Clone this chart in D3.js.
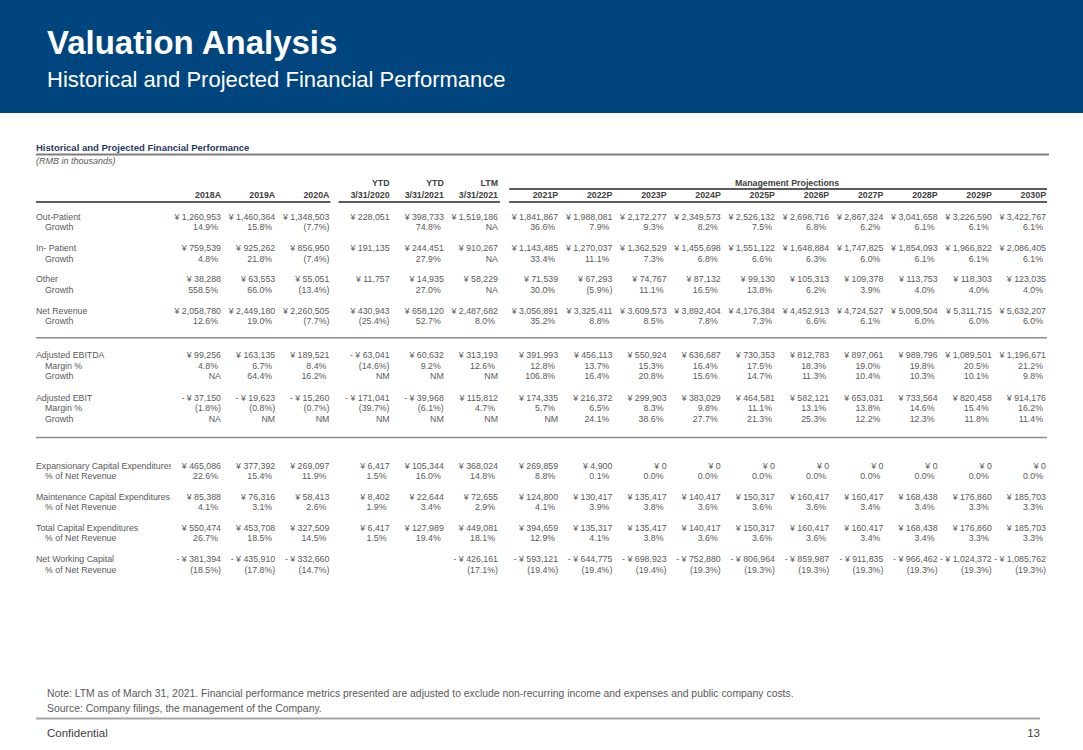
<!DOCTYPE html>
<html><head><meta charset="utf-8">
<script src="https://cdn.jsdelivr.net/npm/d3@7"></script>
<style>
body{margin:0;background:#fff;}
svg{display:block;font-family:"Liberation Sans",Arial,sans-serif;}
</style>
</head><body>
<svg id="chart" width="1083" height="750"></svg>
<script>
// ---------- DATA ----------
const columnLabels = ["2018A","2019A","2020A","3/31/2020","3/31/2021","3/31/2021","2021P","2022P","2023P","2024P","2025P","2026P","2027P","2028P","2029P","2030P"];
const columnTopLabels = ["","","","YTD","YTD","LTM","","","","","","","","","",""];
const columnGroups = [0,0,0,1,1,1,2,2,2,2,2,2,2,2,2,2];

const outPatient = [1260953,1460364,1348503,228051,398733,1519186,1841867,1988081,2172277,2349573,2526132,2698716,2867324,3041658,3226590,3422767];
const outPatientGrowth = [14.9,15.8,-7.7,null,74.8,"NA",36.6,7.9,9.3,8.2,7.5,6.8,6.2,6.1,6.1,6.1];
const inPatient = [759539,925262,856950,191135,244451,910267,1143485,1270037,1362529,1455698,1551122,1648884,1747825,1854093,1966822,2086405];
const inPatientGrowth = [4.8,21.8,-7.4,null,27.9,"NA",33.4,11.1,7.3,6.8,6.6,6.3,6.0,6.1,6.1,6.1];
const other = [38288,63553,55051,11757,14935,58229,71539,67293,74767,87132,99130,105313,109378,113753,118303,123035];
const otherGrowth = [558.5,66.0,-13.4,null,27.0,"NA",30.0,-5.9,11.1,16.5,13.8,6.2,3.9,4.0,4.0,4.0];
const netRevenue = [2058780,2449180,2260505,430943,658120,2487682,3056891,3325411,3609573,3892404,4176384,4452913,4724527,5009504,5311715,5632207];
const netRevenueGrowth = [12.6,19.0,-7.7,-25.4,52.7,8.0,35.2,8.8,8.5,7.8,7.3,6.6,6.1,6.0,6.0,6.0];
const ebitda = [99256,163135,189521,-63041,60632,313193,391993,456113,550924,636687,730353,812783,897061,989796,1089501,1196671];
const ebitdaMargin = [4.8,6.7,8.4,-14.6,9.2,12.6,12.8,13.7,15.3,16.4,17.5,18.3,19.0,19.8,20.5,21.2];
const ebitdaGrowth = ["NA",64.4,16.2,"NM","NM","NM",106.8,16.4,20.8,15.6,14.7,11.3,10.4,10.3,10.1,9.8];
const ebit = [-37150,-19623,-15260,-171041,-39968,115812,174335,216372,299903,383029,464581,582121,653031,733564,820458,914176];
const ebitMargin = [-1.8,-0.8,-0.7,-39.7,-6.1,4.7,5.7,6.5,8.3,9.8,11.1,13.1,13.8,14.6,15.4,16.2];
const ebitGrowth = ["NA","NM","NM","NM","NM","NM","NM",24.1,38.6,27.7,21.3,25.3,12.2,12.3,11.8,11.4];
const expCapex = [465086,377392,269097,6417,105344,368024,269859,4900,0,0,0,0,0,0,0,0];
const expCapexPct = [22.6,15.4,11.9,1.5,16.0,14.8,8.8,0.1,0.0,0.0,0.0,0.0,0.0,0.0,0.0,0.0];
const maintCapex = [85388,76316,58413,8402,22644,72655,124800,130417,135417,140417,150317,160417,160417,168438,176860,185703];
const maintCapexPct = [4.1,3.1,2.6,1.9,3.4,2.9,4.1,3.9,3.8,3.6,3.6,3.6,3.4,3.4,3.3,3.3];
const totalCapex = [550474,453708,327509,6417,127989,449081,394659,135317,135417,140417,150317,160417,160417,168438,176860,185703];
const totalCapexPct = [26.7,18.5,14.5,1.5,19.4,18.1,12.9,4.1,3.8,3.6,3.6,3.6,3.4,3.4,3.3,3.3];
const nwc = [-381394,-435910,-332660,null,null,-426161,-593121,-644775,-698923,-752880,-806964,-859987,-911835,-966462,-1024372,-1085762];
const nwcPct = [-18.5,-17.8,-14.7,null,null,-17.1,-19.4,-19.4,-19.4,-19.3,-19.3,-19.3,-19.3,-19.3,-19.3,-19.3];

// row table built from the arrays (slot = vertical line index)
const rows = [
  {label:"Out-Patient", v:outPatient, t:"cur", slot:0},
  {label:"Growth", v:outPatientGrowth, t:"pct", slot:1, sub:true},
  {label:"In- Patient", v:inPatient, t:"cur", slot:3},
  {label:"Growth", v:inPatientGrowth, t:"pct", slot:4, sub:true},
  {label:"Other", v:other, t:"cur", slot:6},
  {label:"Growth", v:otherGrowth, t:"pct", slot:7, sub:true},
  {label:"Net Revenue", v:netRevenue, t:"cur", slot:9},
  {label:"Growth", v:netRevenueGrowth, t:"pct", slot:10, sub:true},
  {label:"Adjusted EBITDA", v:ebitda, t:"cur", slot:13.3},
  {label:"Margin %", v:ebitdaMargin, t:"pct", slot:14.3, sub:true},
  {label:"Growth", v:ebitdaGrowth, t:"pct", slot:15.3, sub:true},
  {label:"Adjusted EBIT", v:ebit, t:"cur", slot:17.4},
  {label:"Margin %", v:ebitMargin, t:"pct", slot:18.4, sub:true},
  {label:"Growth", v:ebitGrowth, t:"pct", slot:19.4, sub:true},
  {label:"Expansionary Capital Expenditures", v:expCapex, t:"cur", slot:23.9},
  {label:"% of Net Revenue", v:expCapexPct, t:"pct", slot:24.9, sub:true},
  {label:"Maintenance Capital Expenditures", v:maintCapex, t:"cur", slot:26.9},
  {label:"% of Net Revenue", v:maintCapexPct, t:"pct", slot:27.9, sub:true},
  {label:"Total Capital Expenditures", v:totalCapex, t:"cur", slot:29.9},
  {label:"% of Net Revenue", v:totalCapexPct, t:"pct", slot:30.9, sub:true},
  {label:"Net Working Capital", v:nwc, t:"cur", slot:32.9},
  {label:"% of Net Revenue", v:nwcPct, t:"pct", slot:33.9, sub:true}
];
const separatorSlots = [11.6, 21.2];

// ---------- LAYOUT ----------
const svg = d3.select("#chart");
const W = 1083;
const left = 36, right = 1047;
const gapExtra = 0.11;
const colPos = columnLabels.map((d,i)=> i + columnGroups[i]*gapExtra);
const x = d3.scaleLinear().domain([0, 15 + 2*gapExtra]).range([221, 1046]);
const y = d3.scaleLinear().domain([0, 1]).range([217, 227.4]);
const fs = 8.8;
const valColor = "#595959", labColor = "#595959", hdrColor = "#404040";

// banner
svg.append("rect").attr("x",0).attr("y",0).attr("width",W).attr("height",113).attr("fill","#00457e");
svg.append("text").attr("x",47).attr("y",54).attr("fill","#fff").attr("font-weight","bold").attr("font-size",33).text("Valuation Analysis");
svg.append("text").attr("x",47).attr("y",87).attr("fill","#fff").attr("font-size",22).text("Historical and Projected Financial Performance");

// table title
svg.append("text").attr("x",left).attr("y",151).attr("fill","#1f3a64").attr("font-weight","bold").attr("font-size",9.5).text("Historical and Projected Financial Performance");
svg.append("line").attr("x1",left).attr("x2",1049).attr("y1",154.5).attr("y2",154.5).attr("stroke","#7f7f7f").attr("stroke-width",2);
svg.append("text").attr("x",left).attr("y",164).attr("fill","#595959").attr("font-style","italic").attr("font-size",9).text("(RMB in thousands)");

// headers
const hdr = svg.append("g").attr("font-size",fs).attr("font-weight","bold").attr("fill",hdrColor).attr("text-anchor","end");
hdr.selectAll(".yr").data(columnLabels).join("text")
  .attr("x",(d,i)=>x(colPos[i])).attr("y",198).text(d=>d);
hdr.selectAll(".top").data(columnTopLabels).join("text")
  .attr("x",(d,i)=>x(colPos[i])).attr("y",186).text(d=>d);
const projStart = x(colPos[6]) - 49, projEnd = right;
hdr.append("text").attr("text-anchor","middle").attr("x",(projStart+projEnd)/2+9).attr("y",186).text("Management Projections");
svg.append("line").attr("x1",projStart).attr("x2",projEnd).attr("y1",189).attr("y2",189).attr("stroke","#262626").attr("stroke-width",1.3);
const groupSpans = [[left, x(colPos[2])+1],[x(colPos[3])-51, x(colPos[5])+2],[projStart, projEnd]];
svg.selectAll(".gl").data(groupSpans).join("line")
  .attr("x1",d=>d[0]).attr("x2",d=>d[1]).attr("y1",202).attr("y2",202)
  .attr("stroke","#262626").attr("stroke-width",1.3);

// separators
svg.selectAll(".sep").data(separatorSlots).join("line")
  .attr("x1",left).attr("x2",right).attr("y1",d=>y(d)).attr("y2",d=>y(d))
  .attr("stroke","#8c8c8c").attr("stroke-width",1.5);

// formatting
const fmtN = d3.format(",");
function fmt(v, t){
  if (v === null || v === undefined) return "";
  if (typeof v === "string") return v;
  if (t === "cur") return v < 0 ? "- \u00A5 " + fmtN(-v) : "\u00A5 " + fmtN(v);
  return v < 0 ? "(" + (-v).toFixed(1) + "%)" : v.toFixed(1) + "%";
}

// label clip (in row-local coordinates)
svg.append("clipPath").attr("id","labclip").append("rect").attr("x",0).attr("y",-50).attr("width",171).attr("height",100);

const rowG = svg.selectAll(".row").data(rows).join("g").attr("class","row")
  .attr("transform",d=>`translate(0,${y(d.slot)})`);
rowG.append("text").attr("clip-path","url(#labclip)")
  .attr("x",d=> d.sub ? left+9 : left).attr("y",3).attr("font-size",fs).attr("fill",labColor).text(d=>d.label);
rowG.selectAll(".val").data(d=>d.v.map((v,i)=>({v, i, t:d.t}))).join("text")
  .attr("x",d=>x(colPos[d.i]) - ((d.t==="pct" && typeof d.v==="number" && d.v>=0) ? 3 : 0))
  .attr("y",3).attr("text-anchor","end").attr("font-size",fs).attr("fill",valColor)
  .text(d=>fmt(d.v,d.t));

// footer
svg.append("text").attr("x",47).attr("y",697).attr("font-size",10.4).attr("fill","#595959")
  .text("Note: LTM as of March 31, 2021. Financial performance metrics presented are adjusted to exclude non-recurring income and expenses and public company costs.");
svg.append("text").attr("x",47).attr("y",712).attr("font-size",10.4).attr("fill","#595959")
  .text("Source: Company filings, the management of the Company.");
svg.append("line").attr("x1",36).attr("x2",1040).attr("y1",718.5).attr("y2",718.5).attr("stroke","#a6a6a6").attr("stroke-width",2);
svg.append("text").attr("x",47).attr("y",737).attr("font-size",11.5).attr("fill","#404040").text("Confidential");
svg.append("text").attr("x",1040).attr("y",737).attr("font-size",11.5).attr("fill","#404040").attr("text-anchor","end").text("13");
</script>
</body></html>
